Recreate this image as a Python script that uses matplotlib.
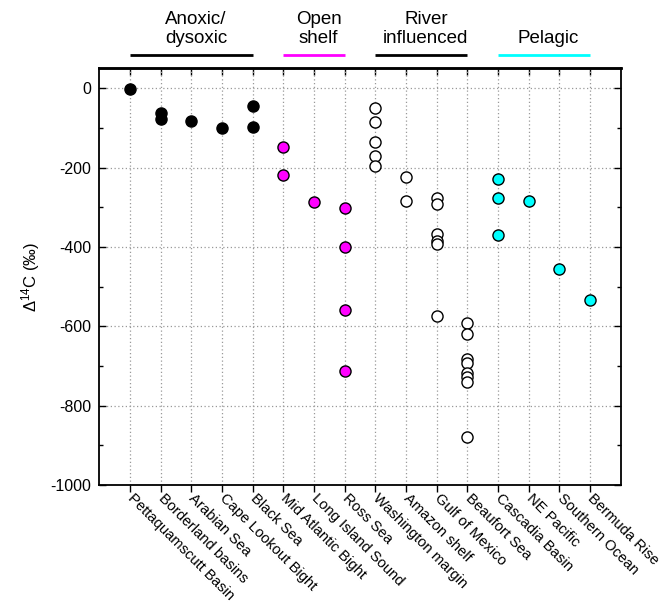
import matplotlib
matplotlib.use("Agg")
import matplotlib.pyplot as plt
import matplotlib.transforms as mtransforms
from matplotlib.ticker import MultipleLocator

plt.rcParams['font.family'] = ['Liberation Sans', 'DejaVu Sans']
plt.rcParams['axes.unicode_minus'] = False
plt.rcParams['mathtext.fontset'] = 'custom'
plt.rcParams['mathtext.rm'] = 'Liberation Sans'
plt.rcParams['mathtext.it'] = 'Liberation Sans:italic'

categories = ["Pettaquamscutt Basin", "Borderland basins", "Arabian Sea",
              "Cape Lookout Bight", "Black Sea", "Mid Atlantic Bight",
              "Long Island Sound", "Ross Sea", "Washington margin",
              "Amazon shelf", "Gulf of Mexico", "Beaufort Sea",
              "Cascadia Basin", "NE Pacific", "Southern Ocean", "Bermuda Rise"]

values = [
    [-3],
    [-62, -78],
    [-83],
    [-100],
    [-46, -98],
    [-148, -220],
    [-287],
    [-301, -401, -558, -712],
    [-51, -86, -135, -171, -195],
    [-223, -284],
    [-276, -293, -368, -384, -394, -574],
    [-591, -619, -683, -692, -718, -728, -740, -878],
    [-230, -276, -369],
    [-284],
    [-455],
    [-534],
]

group_names = ["Anoxic/\ndysoxic", "Open\nshelf", "River\ninfluenced", "Pelagic"]
group_start = [0, 5, 8, 12]
group_end = [4, 7, 11, 15]
group_fill = ["black", "#FF00FF", "white", "#00FFFF"]
group_line = ["black", "#FF00FF", "black", "#00FFFF"]

fig = plt.figure(figsize=(6.62, 6.07), dpi=100)
ax = fig.add_axes([0.150, 0.201, 0.7876, 0.6865])

for g in range(len(group_names)):
    for i in range(group_start[g], group_end[g] + 1):
        ys = values[i]
        ax.plot([i] * len(ys), ys, linestyle='none', marker='o', ms=8.0,
                mfc=group_fill[g], mec='black', mew=1.0, zorder=3, clip_on=False)

ax.set_xlim(-1, 16)
ax.set_ylim(-1000, 50)
ax.set_xticks(range(len(categories)))
ax.set_xticklabels(categories, rotation=-45, ha='left', va='center',
                   rotation_mode='anchor', fontsize=10.6)
ax.yaxis.set_major_locator(MultipleLocator(200))
ax.yaxis.set_minor_locator(MultipleLocator(100))
ax.tick_params(axis='y', which='major', direction='in', length=5, width=1,
               left=True, right=True, labelsize=11.5, pad=6)
ax.tick_params(axis='y', which='minor', direction='in', length=3, width=1,
               left=True, right=True)
ax.tick_params(axis='x', which='major', direction='out', length=5, width=1,
               bottom=True, top=False, pad=3)
secax = ax.secondary_xaxis('top')
secax.set_xticks(range(len(categories)))
secax.tick_params(axis='x', direction='in', length=5, width=1, labeltop=False)
secax.spines['top'].set_linewidth(1.8)

for s in ax.spines.values():
    s.set_linewidth(1.3)
ax.spines['top'].set_linewidth(1.8)

ax.grid(True, which='major', linestyle=(0, (1, 2)), color='#999999', linewidth=0.9)
ax.set_axisbelow(True)

ax.set_ylabel(r"$\Delta^{14}$C (‰)", fontsize=12, labelpad=6)

trans = mtransforms.blended_transform_factory(ax.transData, fig.transFigure)
for g in range(len(group_names)):
    x0, x1 = group_start[g], group_end[g]
    ax.plot([x0, x1], [0.909, 0.909], color=group_line[g], lw=2,
            transform=trans, clip_on=False, solid_capstyle='butt')
    ax.text((x0 + x1) / 2 + 0.15, 0.922, group_names[g], transform=trans,
            ha='center', va='bottom', fontsize=13.5, multialignment='center',
            linespacing=1.15)

fig.savefig("out.png", dpi=100)
